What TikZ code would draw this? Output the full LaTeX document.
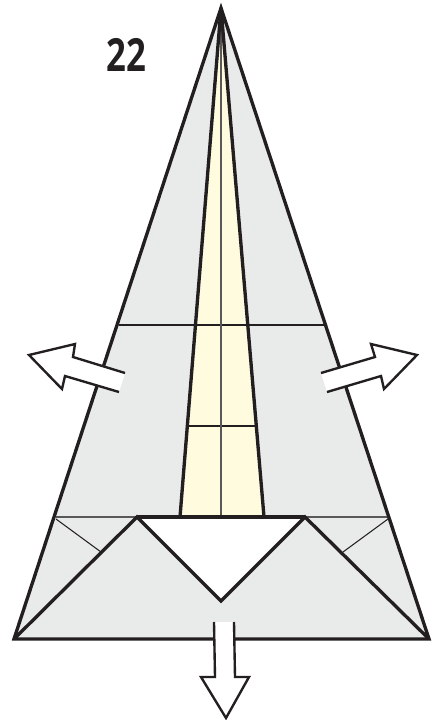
\documentclass[tikz,border=0pt]{standalone}
\usepackage{fontspec}
\setmainfont{Open Sans}
\definecolor{paper}{HTML}{E9EBEA}
\definecolor{cream}{HTML}{FEFBDF}
\definecolor{ink}{HTML}{231F20}
\tikzset{
  outline/.style={draw=ink,line width=1.9pt,line join=miter,miter limit=8},
  crease/.style={draw=ink,line width=0.6pt},
  midcrease/.style={draw=ink!75,line width=0.75pt},
  arrowline/.style={draw=ink,line width=1.35pt,line join=miter,miter limit=6},
}
\begin{document}
\begin{tikzpicture}[x=0.02cm,y=-0.02cm]
\useasboundingbox (0,0) rectangle (432,720);
\coordinate (apex) at (221,8);
\coordinate (bl) at (14,639);
\coordinate (br) at (429,639);
\coordinate (fl) at (137,517);
\coordinate (fr) at (305,517);
\coordinate (fv) at (221,601);
\coordinate (yl) at (180,517);
\coordinate (yr) at (264,517);
% paper
\fill[paper] (apex) -- (bl) -- (br) -- cycle;
\fill[cream] (apex) -- (yl) -- (yr) -- cycle;
\fill[white] (fl) -- (fr) -- (fv) -- cycle;
% creases
\draw[crease] (119,325) -- (325,325);
\draw[crease] (188,426) -- (257,426);
\draw[midcrease] (221,8) -- (221,517);
\draw[midcrease] (56,517) -- (fl);
\draw[midcrease] (fr) -- (388,517);
\draw[crease] (56,519) -- (101,552);
\draw[crease] (388,519) -- (343,552);
% outlines
\draw[outline] (apex) -- (yl);
\draw[outline] (apex) -- (yr);
\draw[outline] (bl) -- (fl) -- (fv) -- (fr) -- (br);
\draw[outline] (fl) -- (fr);
\draw[outline] (apex) -- (bl) -- (br) -- cycle;
% arrows
\fill[white] (125,373) -- (73,357) -- (75,344) -- (29,355) -- (62,389) -- (65,376) -- (119,392) -- cycle;
\draw[arrowline] (125,373) -- (73,357) -- (75,344) -- (29,355) -- (62,389) -- (65,376) -- (119,392);
\fill[white] (321,373) -- (375,357) -- (371,344) -- (417,355) -- (384,389) -- (381,376) -- (327,392) -- cycle;
\draw[arrowline] (321,373) -- (375,357) -- (371,344) -- (417,355) -- (384,389) -- (381,376) -- (327,392);
\fill[white] (214,622) -- (215,677) -- (201,677) -- (226,718) -- (249,677) -- (235,677) -- (234,622) -- cycle;
\draw[arrowline] (214,622) -- (215,677) -- (201,677) -- (226,718) -- (249,677) -- (235,677) -- (234,622);
% label
\node[text=ink,font=\fontsize{26}{26}\selectfont\bfseries,xscale=0.76,inner sep=0pt] (num) at (126,54.5) {22};
\end{tikzpicture}
\end{document}
